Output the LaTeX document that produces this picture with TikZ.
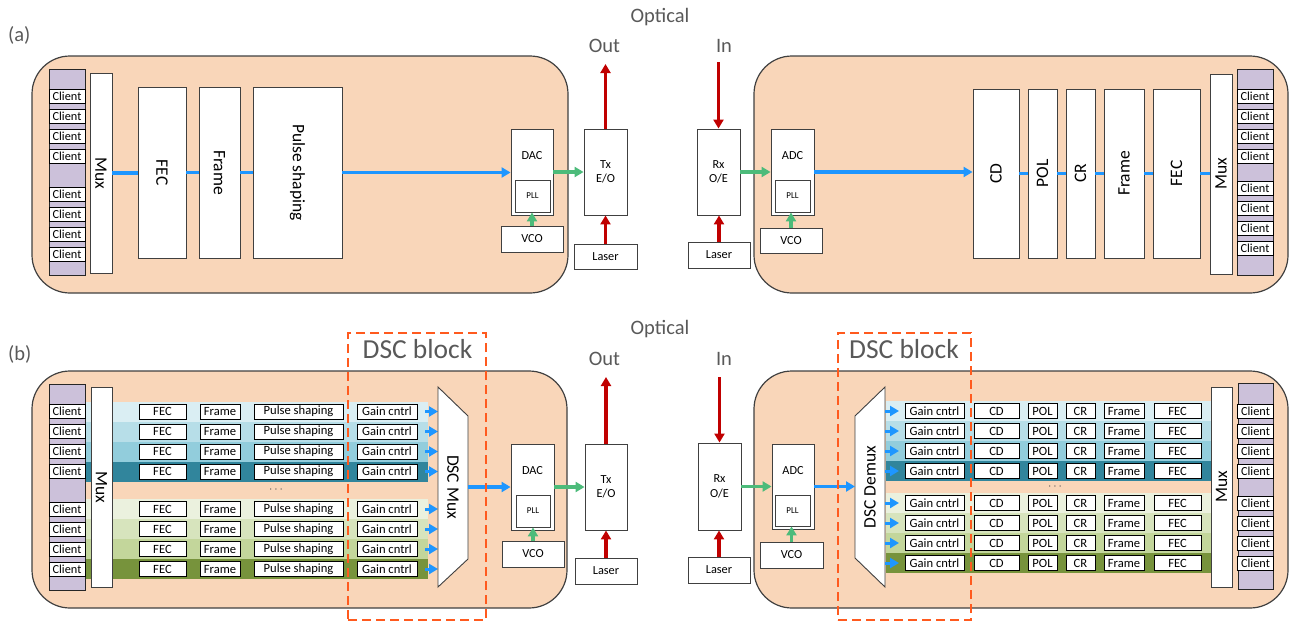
\documentclass[tikz,border=0pt]{standalone}
\usepackage{fontspec}
\setmainfont{Carlito}
\usetikzlibrary{arrows.meta}
\definecolor{peach}{HTML}{F9D6B9}
\definecolor{lav}{HTML}{CCC1DA}
\definecolor{bluel}{HTML}{1E96FF}
\definecolor{greenl}{HTML}{4CBB7A}
\definecolor{redl}{HTML}{C00000}
\definecolor{dscor}{HTML}{FF5A1E}
\definecolor{txtgray}{HTML}{595959}
\definecolor{bdr}{HTML}{404040}
\definecolor{bA1}{HTML}{DAEEF3}
\definecolor{bA2}{HTML}{B7DEE8}
\definecolor{bA3}{HTML}{92CDDC}
\definecolor{bA4}{HTML}{31859C}
\definecolor{bB1}{HTML}{EBF1DE}
\definecolor{bB2}{HTML}{D7E4BD}
\definecolor{bB3}{HTML}{C3D69B}
\definecolor{bB4}{HTML}{77933C}
\newcommand{\bx}[7][]{\node[box,minimum width={(#5)-(#3)},minimum height={(#6)-(#4)},#1] (#2) at ({((#3)+(#5))/2},{((#4)+(#6))/2}) {#7};}
\begin{document}
\begin{tikzpicture}[x=1pt,y=-1pt,
  box/.style={draw=bdr, fill=white, line width=0.9pt, inner sep=0pt, align=center, font=\fontsize{12.3}{14.5}\selectfont},
  container/.style={draw=bdr, fill=peach, line width=1.2pt, rounded corners=38pt},
  stack/.style={draw=black!85, fill=lav, line width=0.9pt},
  client/.style={draw=black, fill=white, line width=1pt, inner sep=0pt, minimum width=36, minimum height=14, font=\fontsize{12.3}{12}\selectfont},
  rbox/.style={draw=black, fill=white, line width=1pt, inner sep=0pt, minimum height=15, font=\fontsize{12.6}{12}\selectfont},
  rot/.style={inner sep=0pt, font=\fontsize{17.5}{18}\selectfont},
  pll/.style={font=\fontsize{9}{9}\selectfont},
  lbl/.style={inner sep=0pt, text=txtgray, font=\fontsize{20.5}{21}\selectfont},
  dots/.style={inner sep=0pt, text=black!70, font=\fontsize{12}{12}\selectfont},
  trap/.style={draw=bdr, fill=white, line width=0.9pt},
  dscbox/.style={fill=none, draw=dscor, line width=2.2pt, dash pattern=on 9pt off 5pt},
  bl/.style={draw=bluel, line width=3.2pt},
  bla/.style={bl, -{Triangle[length=9pt,width=10pt]}},
  bsa/.style={draw=bluel, line width=3pt, -{Triangle[length=9pt,width=10pt]}},
  ga/.style={draw=greenl, line width=3.2pt, -{Triangle[length=9pt,width=10pt]}},
  ra/.style={draw=redl, line width=3.2pt, -{Triangle[length=9pt,width=10pt]}}]
\useasboundingbox (0,0) rectangle (1290,624);

% ================= (a) =================
\node[lbl, anchor=base] (optA) at (660,22) {Optical};
\node[lbl, anchor=base west] (labA) at (8,41.5) {(a)};
\node[lbl, anchor=base] (outAt) at (604.5,52.3) {Out};
\node[lbl, anchor=base] (inAt) at (724,52.3) {In};

\bx[container]{cAL}{32}{56}{568}{293}{}
\bx[container]{cAR}{754}{56}{1288}{293}{}

% left transmitter
\bx[stack]{stkAL}{49}{69}{85}{275}{}
\foreach \y [count=\i] in {96,116,136,156,194,214,234,254} {\node[client] (clAL\i) at (67,\y) {Client};}
\bx{muxAL}{90}{73}{112}{273}{}
\node[rot, rotate=-90] (muxALt) at (muxAL) {Mux};
\bx{fecAL}{138}{87}{186}{258}{}
\node[rot, rotate=-90] (fecALt) at (fecAL) {FEC};
\bx{frmAL}{199}{87}{240}{258}{}
\node[rot, rotate=-90] (frmALt) at (frmAL) {Frame};
\bx{psAL}{253}{87}{342}{258}{}
\node[rot, rotate=-90] (psALt) at (psAL) {Pulse shaping};
\bx{dacA}{511}{129}{553}{215}{}
\node[inner sep=0pt, font=\fontsize{12.3}{12}\selectfont] (dacAt) at (532,156) {DAC};
\bx[pll]{pllA}{515}{180}{550}{212}{PLL}
\bx{vcoA}{501}{226}{563}{252}{VCO}
\bx{txA}{584}{129}{627}{215}{Tx\\E/O}
\bx{laserA}{574}{244}{637}{269}{Laser}
\coordinate (outA) at (605.5,64);

\draw[bl] (muxAL.east) -- (muxAL.east -| fecAL.west);
\draw[bl] (fecAL.east) -- (fecAL.east -| frmAL.west);
\draw[bl] (frmAL.east) -- (frmAL.east -| psAL.west);
\draw[bla] (psAL.east) -- (psAL.east -| dacA.west);
\draw[ga] (dacA.east) -- (dacA.east -| txA.west);
\draw[ga] (vcoA.north) -- (vcoA.north |- pllA.south);
\draw[ra] (laserA.north) -- (laserA.north |- txA.south);
\draw[ra] (txA.north) -- (outA);

% right receiver
\bx{rxA}{697}{129}{740}{215}{Rx\\O/E}
\bx{laserRA}{688}{242}{750}{268}{Laser}
\coordinate (inA) at (718.5,62);
\bx{adcA}{771}{129}{814}{215}{}
\node[inner sep=0pt, font=\fontsize{12.3}{12}\selectfont] (adcAt) at (792.5,156) {ADC};
\bx[pll]{pllRA}{775}{180}{810}{212}{PLL}
\bx{vcoRA}{760}{228}{822}{253}{VCO}
\bx{cdA}{973}{89}{1019}{258}{}
\node[rot, rotate=90] (cdAt) at (cdA) {CD};
\bx{polA}{1028}{89}{1057}{258}{}
\node[rot, rotate=90] (polAt) at (polA) {POL};
\bx{crA}{1066}{89}{1095}{258}{}
\node[rot, rotate=90] (crAt) at (crA) {CR};
\bx{frmAR}{1104}{89}{1144}{258}{}
\node[rot, rotate=90] (frmARt) at (frmAR) {Frame};
\bx{fecAR}{1153}{89}{1200}{258}{}
\node[rot, rotate=90] (fecARt) at (fecAR) {FEC};
\bx{muxAR}{1210}{74}{1232}{274}{}
\node[rot, rotate=90] (muxARt) at (muxAR) {Mux};
\bx[stack]{stkAR}{1237}{69}{1273}{275}{}
\foreach \y [count=\i] in {96,116,136,156,188,208,228,248} {\node[client] (clAR\i) at (1255,\y) {Client};}

\draw[ra] (inA) -- (inA |- rxA.north);
\draw[ra] (laserRA.north) -- (laserRA.north |- rxA.south);
\draw[ga] (rxA.east) -- (rxA.east -| adcA.west);
\draw[ga] (vcoRA.north) -- (vcoRA.north |- pllRA.south);
\draw[bla] (adcA.east) -- (adcA.east -| cdA.west);
\draw[bl] (cdA.east) -- (cdA.east -| polA.west);
\draw[bl] (polA.east) -- (polA.east -| crA.west);
\draw[bl] (crA.east) -- (crA.east -| frmAR.west);
\draw[bl] (frmAR.east) -- (frmAR.east -| fecAR.west);
\draw[bl] (fecAR.east) -- (fecAR.east -| muxAR.west);

% ================= (b) =================
\node[lbl, anchor=base] (optB) at (660,334) {Optical};
\node[lbl, anchor=base west] (labB) at (8,360) {(b)};
\node[lbl, anchor=base] (outBt) at (604.5,365) {Out};
\node[lbl, anchor=base] (inBt) at (724,365) {In};

\bx[container]{cBL}{32}{371}{567}{608}{}
\bx[container]{cBR}{754}{371}{1288}{608}{}

% left transmitter
\foreach \y/\c in {411.5/bA1,431.5/bA2,451.5/bA3,471.5/bA4,509/bB1,529/bB2,549/bB3,569/bB4} {
  \fill[\c] (86,\y-10) rectangle (428,\y+10);
}
\bx[stack]{stkBL}{49}{384}{85}{590}{}
\foreach \y [count=\i] in {411.5,431.5,451.5,471.5,509,529,549,569} {\node[client] (clBL\i) at (67,\y) {Client};}
\bx{muxBL}{91}{387}{112}{587}{}
\node[rot, rotate=-90] (muxBLt) at (muxBL) {Mux};
\foreach \y [count=\i] in {411.5,431.5,451.5,471.5,509,529,549,569} {
  \node[rbox, minimum width=47] (fecBL\i) at (162.5,\y) {FEC};
  \node[rbox, minimum width=40] (frmBL\i) at (220,\y) {Frame};
  \node[rbox, minimum width=89] (psBL\i) at (298.5,\y) {Pulse shaping};
  \node[rbox, minimum width=60] (gcBL\i) at (387,\y) {Gain cntrl};
  \coordinate (sL\i) at (425,\y);
  \coordinate (eL\i) at (438,\y);
  \draw[bsa] (sL\i) -- (eL\i);
}
\node[dots] (dotsL) at (276,490) {$\cdots$};
\coordinate (tL1) at (438,387);
\coordinate (tL2) at (468,416);
\coordinate (tL3) at (468,559);
\coordinate (tL4) at (438,587);
\draw[trap] (tL1) -- (tL2) -- (tL3) -- (tL4) -- cycle;
\node[rot, rotate=-90] (dscMuxT) at (453,487) {DSC Mux};
\coordinate (dscMuxOut) at (468,487);
\bx{dacB}{511}{444}{554}{530}{}
\node[inner sep=0pt, font=\fontsize{12.3}{12}\selectfont] (dacBt) at (532.5,471) {DAC};
\bx[pll]{pllB}{516}{495}{550}{527}{PLL}
\bx{vcoB}{502}{541}{564}{567}{VCO}
\bx{txB}{585}{444}{627}{530}{Tx\\E/O}
\bx{laserB}{575}{558}{637}{584}{Laser}
\coordinate (outB) at (606,377);

\draw[bla] (dscMuxOut) -- (dscMuxOut -| dacB.west);
\draw[ga] (dacB.east) -- (dacB.east -| txB.west);
\draw[ga] (vcoB.north) -- (vcoB.north |- pllB.south);
\draw[ra] (laserB.north) -- (laserB.north |- txB.south);
\draw[ra] (txB.north) -- (outB);

% right receiver
\bx{rxB}{698}{443}{741}{530}{Rx\\O/E}
\bx{laserRB}{688}{557}{750}{583}{Laser}
\coordinate (inB) at (719.5,377);
\bx{adcB}{772}{444}{814}{529}{}
\node[inner sep=0pt, font=\fontsize{12.3}{12}\selectfont] (adcBt) at (793,470.5) {ADC};
\bx[pll]{pllRB}{775}{495}{810}{526}{PLL}
\bx{vcoRB}{760}{542}{823}{568}{VCO}
\foreach \y/\c in {411/bA1,431/bA2,451/bA3,471/bA4,503/bB1,523/bB2,543/bB3,563/bB4} {
  \fill[\c] (886,\y-10) rectangle (1211,\y+10);
}
\coordinate (tR1) at (855,416);
\coordinate (tR2) at (885,387);
\coordinate (tR3) at (885,587);
\coordinate (tR4) at (855,558);
\draw[trap] (tR1) -- (tR2) -- (tR3) -- (tR4) -- cycle;
\node[rot, rotate=90] (dscDemuxT) at (870,487) {DSC Demux};
\coordinate (demuxIn) at (855,487);
\foreach \y [count=\i] in {411,431,451,471,503,523,543,563} {
  \coordinate (sR\i) at (885,\y);
  \coordinate (eR\i) at (899,\y);
  \draw[bsa] (sR\i) -- (eR\i);
  \node[rbox, minimum width=59] (gcBR\i) at (934.5,\y) {Gain cntrl};
  \node[rbox, minimum width=45] (cdBR\i) at (996.5,\y) {CD};
  \node[rbox, minimum width=29] (polBR\i) at (1042.5,\y) {POL};
  \node[rbox, minimum width=29] (crBR\i) at (1080.5,\y) {CR};
  \node[rbox, minimum width=40] (frmBR\i) at (1124,\y) {Frame};
  \node[rbox, minimum width=47] (fecBR\i) at (1177.5,\y) {FEC};
}
\node[dots] (dotsR) at (1055,487) {$\cdots$};
\bx{muxBR}{1211}{387}{1232}{587}{}
\node[rot, rotate=90] (muxBRt) at (muxBR) {Mux};
\bx[stack]{stkBR}{1238}{383}{1273}{589}{}
\foreach \y [count=\i] in {411,431,451,471,503,523,543,563} {\node[client] (clBR\i) at (1255.5,\y) {Client};}

\draw[ra] (inB) -- (inB |- rxB.north);
\draw[ra] (laserRB.north) -- (laserRB.north |- rxB.south);
\draw[ga] (rxB.east) -- (rxB.east -| adcB.west);
\draw[ga] (vcoRB.north) -- (vcoRB.north |- pllRB.south);
\draw[bla] (adcB.east) -- (adcB.east -| demuxIn);

% DSC blocks
\bx[dscbox]{dscBL}{348}{333}{486}{620}{}
\bx[dscbox]{dscBR}{838}{333}{971}{620}{}
\node[lbl, anchor=base, font=\fontsize{27.5}{28}\selectfont] (dscLt) at (417.5,358) {DSC block};
\node[lbl, anchor=base, font=\fontsize{27.5}{28}\selectfont] (dscRt) at (904,358) {DSC block};
\end{tikzpicture}
\end{document}
